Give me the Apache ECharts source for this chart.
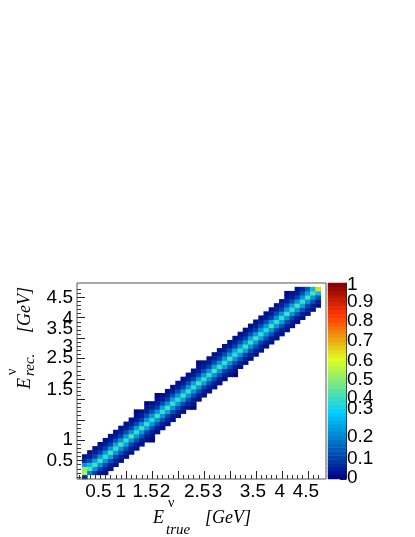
<!DOCTYPE html>
<html><head><meta charset="utf-8">
<script src="https://cdn.jsdelivr.net/npm/echarts@6/dist/echarts.min.js"></script>
<style>html,body{margin:0;padding:0;background:#fff}#c{width:415px;height:537px}</style>
</head><body><div id="c"></div>
<script>
// bin centres (GeV), bins 0.1 GeV wide from 0.05 to 4.85
const eTrueBins = ['0.1','0.2','0.3','0.4','0.5','0.6','0.7','0.8','0.9','1.0','1.1','1.2','1.3','1.4','1.5','1.6','1.7','1.8','1.9','2.0','2.1','2.2','2.3','2.4','2.5','2.6','2.7','2.8','2.9','3.0','3.1','3.2','3.3','3.4','3.5','3.6','3.7','3.8','3.9','4.0','4.1','4.2','4.3','4.4','4.5','4.6','4.7','4.8'];
const eRecBins  = ['0.1','0.2','0.3','0.4','0.5','0.6','0.7','0.8','0.9','1.0','1.1','1.2','1.3','1.4','1.5','1.6','1.7','1.8','1.9','2.0','2.1','2.2','2.3','2.4','2.5','2.6','2.7','2.8','2.9','3.0','3.1','3.2','3.3','3.4','3.5','3.6','3.7','3.8','3.9','4.0','4.1','4.2','4.3','4.4','4.5','4.6','4.7','4.8'];
const xTickLabels = [0.5,1,1.5,2,2.5,3,3.5,4,4.5];
const yTickLabels = [0.5,1,1.5,2,2.5,3,3.5,4,4.5];
const zTickLabels = [0,0.1,0.2,0.3,0.4,0.5,0.6,0.7,0.8,0.9];
const zTopLabel = [1];
// response rows: [E_true bin index, first E_rec bin index, fractions bottom->top]
const response = [
[1,0,[0.06,0.55,0.50,0.25,0.07,0.02]],
[2,1,[0.20,0.44,0.30,0.12,0.04,0.02]],
[3,1,[0.08,0.24,0.42,0.26,0.11,0.04,0.02]],
[4,1,[0.03,0.10,0.24,0.43,0.25,0.10,0.04,0.02]],
[5,1,[0.02,0.05,0.12,0.25,0.41,0.25,0.11,0.04,0.02]],
[6,2,[0.02,0.05,0.12,0.26,0.42,0.24,0.11,0.05,0.02]],
[7,3,[0.02,0.05,0.11,0.25,0.40,0.26,0.12,0.05,0.02]],
[8,4,[0.02,0.05,0.12,0.24,0.43,0.25,0.11,0.04,0.02]],
[9,5,[0.02,0.05,0.12,0.26,0.41,0.24,0.12,0.05,0.02]],
[10,6,[0.02,0.04,0.11,0.25,0.44,0.25,0.11,0.05,0.02]],
[11,7,[0.02,0.05,0.12,0.25,0.40,0.26,0.12,0.05,0.02,0.01]],
[12,8,[0.02,0.05,0.12,0.24,0.42,0.25,0.11,0.05,0.02]],
[13,9,[0.02,0.05,0.11,0.26,0.41,0.24,0.12,0.05,0.02,0.01]],
[14,9,[0.01,0.02,0.05,0.12,0.25,0.39,0.25,0.12,0.05,0.02]],
[15,11,[0.02,0.05,0.12,0.25,0.42,0.24,0.11,0.05,0.02,0.01]],
[16,12,[0.02,0.04,0.12,0.25,0.40,0.26,0.12,0.05,0.02]],
[17,13,[0.02,0.05,0.11,0.26,0.42,0.25,0.11,0.04,0.02]],
[18,14,[0.02,0.05,0.12,0.24,0.41,0.26,0.12,0.05,0.02]],
[19,15,[0.02,0.05,0.12,0.25,0.39,0.25,0.12,0.05,0.02]],
[20,16,[0.02,0.05,0.11,0.26,0.42,0.24,0.11,0.05,0.02]],
[21,17,[0.02,0.04,0.12,0.25,0.41,0.25,0.12,0.05,0.02]],
[22,17,[0.01,0.02,0.05,0.12,0.24,0.40,0.26,0.11,0.05,0.02]],
[23,19,[0.02,0.05,0.12,0.25,0.42,0.25,0.11,0.05,0.02,0.01]],
[24,20,[0.02,0.05,0.11,0.26,0.40,0.24,0.12,0.05,0.02]],
[25,21,[0.02,0.05,0.12,0.25,0.41,0.25,0.11,0.04,0.02]],
[26,22,[0.02,0.04,0.12,0.24,0.43,0.26,0.12,0.05,0.02]],
[27,23,[0.02,0.05,0.12,0.25,0.40,0.25,0.11,0.05,0.02]],
[28,24,[0.02,0.05,0.11,0.26,0.41,0.24,0.12,0.05,0.02]],
[29,25,[0.02,0.05,0.12,0.25,0.42,0.25,0.12,0.04,0.02]],
[30,25,[0.01,0.02,0.05,0.12,0.24,0.39,0.26,0.11,0.05,0.02]],
[31,27,[0.02,0.05,0.12,0.25,0.41,0.25,0.12,0.05,0.02]],
[32,28,[0.02,0.04,0.11,0.26,0.42,0.24,0.11,0.05,0.02]],
[33,29,[0.02,0.05,0.12,0.25,0.40,0.26,0.12,0.05,0.02]],
[34,30,[0.02,0.05,0.12,0.24,0.42,0.25,0.11,0.04,0.02]],
[35,31,[0.02,0.05,0.11,0.26,0.41,0.24,0.12,0.05,0.02]],
[36,32,[0.02,0.05,0.12,0.25,0.39,0.25,0.12,0.05,0.02]],
[37,33,[0.02,0.04,0.12,0.25,0.42,0.26,0.11,0.05,0.02]],
[38,34,[0.02,0.05,0.11,0.24,0.41,0.25,0.12,0.05,0.02]],
[39,35,[0.02,0.05,0.12,0.26,0.40,0.24,0.11,0.05,0.02]],
[40,36,[0.02,0.05,0.12,0.25,0.42,0.25,0.12,0.05,0.02,0.01]],
[41,37,[0.02,0.05,0.11,0.25,0.41,0.26,0.12,0.04,0.02]],
[42,38,[0.02,0.05,0.12,0.24,0.42,0.25,0.11,0.05,0.03]],
[43,39,[0.02,0.05,0.12,0.26,0.40,0.25,0.12,0.07]],
[44,40,[0.02,0.05,0.11,0.25,0.42,0.26,0.14]],
[45,41,[0.02,0.05,0.12,0.25,0.44,0.30]],
[46,42,[0.02,0.05,0.12,0.30,0.64]]
];

// label nudges seen in the reference (px): x labels to the left, y / z labels upwards
const xLabelShift = [2,5.5,6.5,13,7,13,3,2,2];
const yLabelShift = [0,0,30,21,21,12,9,-1,0];
const zLabelShift = [1,1,3,11,3,1,1,1,1,1];
const zTopShift = [-2];

// ROOT "pretty" palette (50 colours)
function rootPal(v){
  const s=[0,0.34,0.61,0.84,1], r=[0,0,0.87,1,0.51], g=[0,0.81,1,0.2,0], b=[0.51,1,0.12,0,0];
  let k=0; while(k<3 && v>s[k+1]) k++;
  const t=(v-s[k])/(s[k+1]-s[k]);
  const f=a=>Math.round(255*(a[k]+(a[k+1]-a[k])*t));
  return 'rgb('+f(r)+','+f(g)+','+f(b)+')';
}
const pieces=[];
for(let i=0;i<50;i++){ pieces.push({gte:i/50, lt:(i+1)/50, color:rootPal((i+0.5)/50)}); }
pieces[49].lte=1; delete pieces[49].lt;

const heat=[];
response.forEach(([xi,ys,vals])=>vals.forEach((v,k)=>heat.push([xi,ys+k,v])));
const barBins=[]; const barData=[];
for(let i=0;i<50;i++){ barBins.push(String(i)); barData.push([0,i,(i+0.5)/50]); }

const FONT='Liberation Sans';
const FS=19;
const hidden={show:false};
const minorTicks=[]; for(let i=1;i<=47;i++){ minorTicks.push(+(0.1*i).toFixed(2)); }

// grid geometry (px) used to convert label nudges into axis units
const G={left:77,top:283,width:249,height:196};
const xPx=G.width/4.8, yPx=G.height/4.8, zPx=G.height/1;
const xLabelPos=xTickLabels.map((v,i)=>v-xLabelShift[i]/xPx);
const yLabelPos=yTickLabels.map((v,i)=>v+yLabelShift[i]/yPx);
const zLabelPos=zTickLabels.map((v,i)=>v+zLabelShift[i]/zPx);
const zTopPos=zTopLabel.map((v,i)=>v+zTopShift[i]/zPx);
function idxOf(arr,v){ let best=0,d=1e9; for(let i=0;i<arr.length;i++){ const e=Math.abs(arr[i]-v); if(e<d){d=e;best=i;} } return best; }
const fmt=(pos,labels)=>v=>String(labels[idxOf(pos,v)]);

const chart=echarts.init(document.getElementById('c'),null,{renderer:'canvas'});
chart.setOption({
  animation:false,
  backgroundColor:'#fff',
  grid:[
    {left:G.left,top:G.top,width:G.width,height:G.height,show:true,borderColor:'#555',borderWidth:1,backgroundColor:'transparent',z:10},
    {left:328,top:G.top,width:18,height:G.height,show:false}
  ],
  visualMap:{type:'piecewise',show:false,pieces:pieces,seriesIndex:[0,1]},
  xAxis:[
    {type:'category',gridIndex:0,position:'bottom',data:eTrueBins,axisLine:hidden,axisTick:hidden,axisLabel:hidden,splitLine:hidden},
    {type:'value',gridIndex:0,position:'bottom',min:0.05,max:4.85,axisLine:hidden,splitLine:hidden,
     axisTick:{show:true,inside:true,length:4,customValues:minorTicks,lineStyle:{color:'#333'}},axisLabel:{show:false}},
    {type:'value',gridIndex:0,position:'bottom',min:0.05,max:4.85,axisLine:hidden,splitLine:hidden,
     axisTick:{show:true,inside:true,length:8,customValues:xTickLabels,lineStyle:{color:'#222'}},
     axisLabel:{show:true,customValues:xLabelPos,margin:3,fontFamily:FONT,fontSize:FS,color:'#000',
       hideOverlap:false,formatter:fmt(xLabelPos,xTickLabels)}},
    {type:'category',gridIndex:1,data:['c'],axisLine:hidden,axisTick:hidden,axisLabel:hidden}
  ],
  yAxis:[
    {type:'category',gridIndex:0,position:'left',data:eRecBins,axisLine:hidden,axisTick:hidden,axisLabel:hidden,splitLine:hidden},
    {type:'value',gridIndex:0,position:'left',min:0.05,max:4.85,axisLine:hidden,splitLine:hidden,
     axisTick:{show:true,inside:true,length:4,customValues:minorTicks,lineStyle:{color:'#333'}},axisLabel:{show:false}},
    {type:'value',gridIndex:0,position:'left',min:0.05,max:4.85,axisLine:hidden,splitLine:hidden,
     axisTick:{show:true,inside:true,length:8,customValues:yTickLabels,lineStyle:{color:'#222'}},
     axisLabel:{show:true,customValues:yLabelPos,margin:4,fontFamily:FONT,fontSize:FS,color:'#000',lineHeight:16,
       hideOverlap:false,formatter:fmt(yLabelPos,yTickLabels)}},
    {type:'category',gridIndex:1,data:barBins,axisLine:hidden,axisTick:hidden,axisLabel:hidden},
    {type:'value',gridIndex:1,position:'right',min:0,max:1,interval:0.1,splitLine:hidden,
     axisLine:{show:true,lineStyle:{color:'#222',width:1}},
     axisTick:{show:true,inside:true,length:6,customValues:zTickLabels.concat(zTopLabel),lineStyle:{color:'#222'}},
     axisLabel:{show:true,customValues:zLabelPos,margin:1,fontFamily:FONT,fontSize:FS,color:'#000',lineHeight:16,
       hideOverlap:false,formatter:fmt(zLabelPos,zTickLabels)}},
    {type:'value',gridIndex:1,position:'right',min:0,max:1,interval:0.1,splitLine:hidden,
     axisLine:hidden,axisTick:hidden,
     axisLabel:{show:true,customValues:zTopPos,margin:1,fontFamily:FONT,fontSize:FS,color:'#000',lineHeight:16,
       hideOverlap:false,formatter:fmt(zTopPos,zTopLabel)}}
  ],
  series:[
    {type:'heatmap',xAxisIndex:0,yAxisIndex:0,data:heat,itemStyle:{borderWidth:0}},
    {type:'heatmap',xAxisIndex:3,yAxisIndex:3,data:barData,itemStyle:{borderWidth:0}}
  ],
  graphic:[
    {type:'group',x:0,y:0,children:[
      {type:'text',x:153,y:518,style:{text:'E',font:'italic 18px "Liberation Serif"',fill:'#000',verticalAlign:'middle'}},
      {type:'text',x:168,y:503,style:{text:'ν',font:'14px "Liberation Serif"',fill:'#000',verticalAlign:'middle'}},
      {type:'text',x:166,y:530,style:{text:'true',font:'italic 15px "Liberation Serif"',fill:'#000',verticalAlign:'middle'}},
      {type:'text',x:205,y:518,style:{text:'[GeV]',font:'italic 18px "Liberation Serif"',fill:'#000',verticalAlign:'middle'}}
    ]},
    {type:'group',x:25,y:389,rotation:Math.PI/2,children:[
      {type:'text',x:0,y:0,style:{text:'E',font:'italic 18px "Liberation Serif"',fill:'#000',verticalAlign:'middle'}},
      {type:'text',x:14,y:-13,style:{text:'ν',font:'14px "Liberation Serif"',fill:'#000',verticalAlign:'middle'}},
      {type:'text',x:13,y:5,style:{text:'rec.',font:'italic 15px "Liberation Serif"',fill:'#000',verticalAlign:'middle'}},
      {type:'text',x:56,y:0,style:{text:'[GeV]',font:'italic 18px "Liberation Serif"',fill:'#000',verticalAlign:'middle'}}
    ]}
  ]
});
</script></body></html>
